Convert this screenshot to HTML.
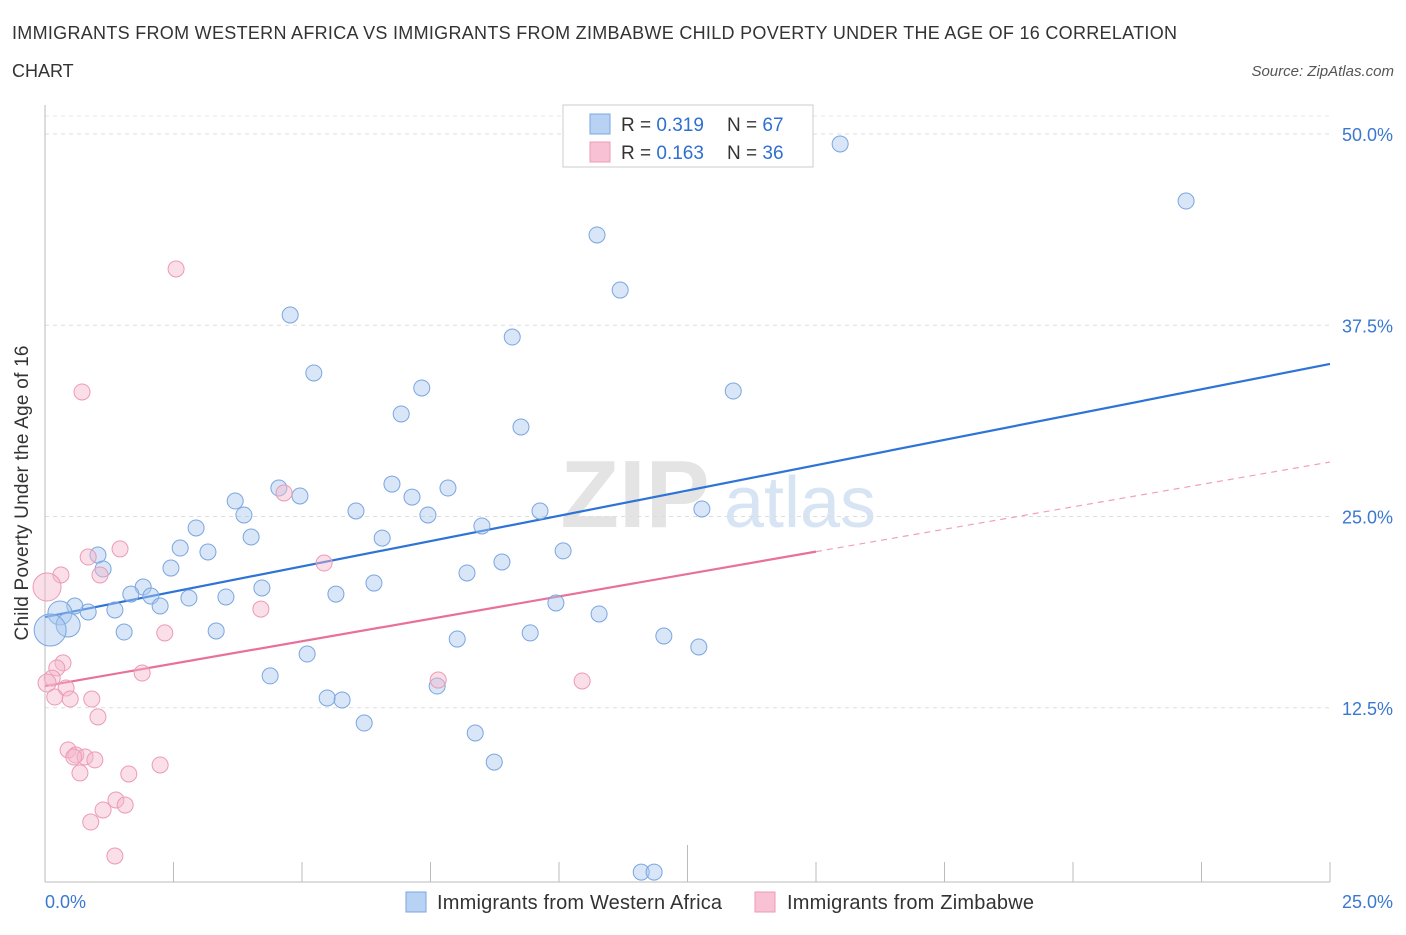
<!DOCTYPE html>
<html><head><meta charset="utf-8">
<style>
body{margin:0;background:#fff;font-family:"Liberation Sans",sans-serif;}
svg text{font-family:"Liberation Sans",sans-serif;}
</style></head>
<body>
<svg id="chart" width="1406" height="930" xmlns="http://www.w3.org/2000/svg">
<text x="12" y="39" font-size="18" fill="#333" textLength="1165">IMMIGRANTS FROM WESTERN AFRICA VS IMMIGRANTS FROM ZIMBABWE CHILD POVERTY UNDER THE AGE OF 16 CORRELATION</text>
<text x="12" y="77" font-size="18" fill="#333">CHART</text>
<text x="1394" y="76" font-size="15" font-style="italic" fill="#555" text-anchor="end">Source: ZipAtlas.com</text>
<g>
<text x="635" y="527" font-size="96" font-family="Liberation Serif" fill="#e4e4e4" text-anchor="middle" font-weight="bold">ZIP</text>
<text x="800" y="527" font-size="72" fill="#d6e4f4" text-anchor="middle">atlas</text>
</g>
<g id="grid"></g>
<g id="axes"></g>
<g id="trend"></g>
<g id="points"></g>
<g>
<rect x="563" y="105" width="250" height="62" fill="#fff" stroke="#ccc"/>
<rect x="590" y="114" width="20" height="20" fill="#b8d2f4" stroke="#7aa6e0"/>
<rect x="590" y="142" width="20" height="20" fill="#f8c2d4" stroke="#ec9ab5"/>
<text x="621" y="131" font-size="19" fill="#333">R = <tspan fill="#2f6fd0">0.319</tspan></text>
<text x="727" y="131" font-size="19" fill="#333">N = <tspan fill="#2f6fd0">67</tspan></text>
<text x="621" y="159" font-size="19" fill="#333">R = <tspan fill="#2f6fd0">0.163</tspan></text>
<text x="727" y="159" font-size="19" fill="#333">N = <tspan fill="#2f6fd0">36</tspan></text>
</g>
<g>
<rect x="406" y="892" width="20" height="20" fill="#b8d2f4" stroke="#7aa6e0"/>
<text x="437" y="909" font-size="20" fill="#333" textLength="285">Immigrants from Western Africa</text>
<rect x="755" y="892" width="20" height="20" fill="#f8c2d4" stroke="#ec9ab5"/>
<text x="787" y="909" font-size="20" fill="#333" textLength="247">Immigrants from Zimbabwe</text>
</g>
<text x="28" y="493" font-size="19" fill="#333" text-anchor="middle" textLength="295" transform="rotate(-90 28 493)">Child Poverty Under the Age of 16</text>
</svg>
<script>
const yTicks=[12.5,25,37.5,50];
const yTickLabels=["12.5%","25.0%","37.5%","50.0%"];
const xTickLabels=["0.0%","25.0%"];
const blueX=[15.47,22.20,10.74,11.19,4.77,9.09,5.23,7.33,13.39,6.93,9.26,4.55,3.70,4.96,6.75,7.84,7.14,6.05,3.87,7.45,9.63,12.78,2.94,8.50,4.01,6.56,2.63,3.17,1.03,10.08,1.13,2.45,8.89,8.21,6.40,1.91,4.22,1.67,2.06,5.66,2.80,3.52,2.24,1.36,0.84,0.58,0.29,0.45,0.10,9.94,10.78,1.54,3.33,8.02,9.44,12.04,12.72,5.10,4.38,7.63,5.49,5.78,6.21,8.37,8.74,11.60,11.85];
const blueY=[49.35,45.62,43.40,39.80,38.17,36.73,34.38,33.40,33.20,31.70,30.85,26.86,26.01,26.34,27.12,26.86,26.27,25.36,25.10,25.10,25.36,25.49,24.25,24.38,23.66,23.59,22.94,22.68,22.48,22.75,21.57,21.63,22.03,21.31,20.65,20.39,20.33,19.93,19.80,19.93,19.67,19.74,19.15,18.89,18.76,19.15,18.69,17.91,17.58,19.35,18.63,17.45,17.52,16.99,17.39,17.19,16.47,16.01,14.58,13.92,13.14,13.01,11.50,10.85,8.95,1.76,1.76];
const blueR=[8,8,8,8,8,8,8,8,8,8,8,8,8,8,8,8,8,8,8,8,8,8,8,8,8,8,8,8,8,8,8,8,8,8,8,8,8,8,8,8,8,8,8,8,8,8,12,12,16,8,8,8,8,8,8,8,8,8,8,8,8,8,8,8,8,8,8];
const pinkX=[2.55,0.72,4.65,1.46,0.84,0.31,1.07,5.43,0.04,4.20,2.33,0.35,0.23,1.89,0.14,0.04,0.41,7.65,10.45,0.19,0.49,0.91,1.03,0.45,0.60,0.78,0.97,2.24,0.68,1.63,1.38,1.56,1.13,0.89,1.36,0.56];
const pinkY=[41.18,33.14,26.54,22.88,22.35,21.18,21.18,21.96,20.39,18.95,17.39,15.43,15.10,14.77,14.44,14.12,13.79,14.31,14.25,13.20,13.07,13.07,11.90,9.74,9.41,9.28,9.09,8.76,8.24,8.17,6.47,6.14,5.82,5.03,2.81,9.28];
const pinkR=[8,8,8,8,8,8,8,8,14,8,8,8,8,8,8,9,8,8,8,8,8,8,8,8,8,8,8,8,8,8,8,8,8,8,8,8];
const blueTrend=[18.43,34.97];
const pinkTrend=[13.92,28.56];
const pinkSolidEnd=15.0;

const NS="http://www.w3.org/2000/svg";
const X=v=>45+v/25*1285;
const Y=v=>899-v/12.5*191.25;
function mk(tag,attrs,parent){const e=document.createElementNS(NS,tag);for(const k in attrs)e.setAttribute(k,attrs[k]);document.getElementById(parent).appendChild(e);return e;}
yTicks.forEach((t,i)=>{
 const l=mk('line',{x1:45,x2:1330,y1:Y(t),y2:Y(t),stroke:'#ddd','stroke-dasharray':'4,4'},'grid');
 
 
 const tx=mk('text',{x:1393,y:Y(t)+7,'font-size':18,fill:'#3a78d0','text-anchor':'end'},'axes');
 tx.textContent=yTickLabels[i];
 
 
});
mk('line',{x1:45,x2:1330,y1:116,y2:116,stroke:'#e4e4e4','stroke-dasharray':'4,4'},'grid');
const ya=mk('line',{x1:45,x2:45,y1:105,y2:882,stroke:'#bbb'},'axes');


const xa=mk('line',{x1:45,x2:1330,y1:882,y2:882,stroke:'#bbb'},'axes');


for(let i=0;i<=10;i++){
 const t=mk('line',{x1:X(i*2.5),x2:X(i*2.5),y1:i==5?845:862,y2:882,stroke:'#bbb'},'axes');
 
 
}
[[0,'start',45],[25,'end',1393]].forEach((a,i)=>{
 const tx=mk('text',{x:a[2],y:908,'font-size':18,fill:'#3a78d0','text-anchor':a[1]},'axes');
 tx.textContent=xTickLabels[i];
 
 
});
blueX.forEach((v,i)=>{
 const c=mk('circle',{cx:X(v),cy:Y(blueY[i]),r:blueR[i],fill:'rgba(169,200,240,0.45)',stroke:'#7aa6e0','stroke-width':1},'points');
 
 
});
pinkX.forEach((v,i)=>{
 const c=mk('circle',{cx:X(v),cy:Y(pinkY[i]),r:pinkR[i],fill:'rgba(245,184,204,0.45)',stroke:'#ec9ab5','stroke-width':1},'points');
 
 
});
const bl=mk('line',{x1:X(0),y1:Y(blueTrend[0]),x2:X(25),y2:Y(blueTrend[1]),stroke:'#2e74d6','stroke-width':2.2},'trend');


const pAt=x=>pinkTrend[0]+(pinkTrend[1]-pinkTrend[0])*x/25;
const pl=mk('line',{x1:X(0),y1:Y(pinkTrend[0]),x2:X(pinkSolidEnd),y2:Y(pAt(pinkSolidEnd)),stroke:'#e8709a','stroke-width':2.2},'trend');


const pd=mk('line',{x1:X(pinkSolidEnd),y1:Y(pAt(pinkSolidEnd)),x2:X(25),y2:Y(pinkTrend[1]),stroke:'#f0a0bb','stroke-width':1.2,'stroke-dasharray':'6,5'},'trend');


</script>
</body></html>
